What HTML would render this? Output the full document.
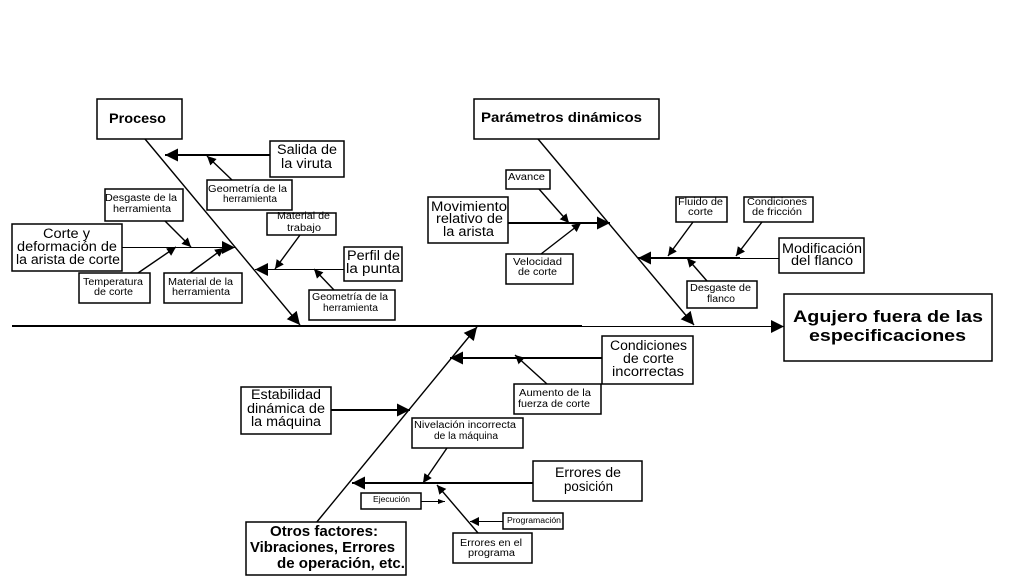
<!DOCTYPE html>
<html lang="es"><head><meta charset="utf-8"><title>Diagrama de Ishikawa</title>
<style>
html,body{margin:0;padding:0;background:#fff}
svg{display:block}
text{font-family:"Liberation Sans",Arial,sans-serif;fill:#000}
.b{font-weight:bold;font-size:14px}
.t{font-weight:bold;font-size:17px}
.o{font-weight:bold;font-size:15px}
.l{font-size:13.5px}
.s{font-size:10px}
.x{font-size:8px}
rect{fill:#fff;stroke:#000;stroke-width:1.5}
line{stroke:#000;stroke-width:1.4}
.h{stroke-width:1}
.k{stroke-width:2}
polygon{fill:#000}
</style></head><body>
<svg width="1012" height="576" viewBox="0 0 1012 576" xmlns="http://www.w3.org/2000/svg">
<defs>
<marker id="a" markerUnits="userSpaceOnUse" markerWidth="14" markerHeight="14" refX="13" refY="7" orient="auto"><polygon points="0,0.5 13,7 0,13.5"/></marker>
<marker id="m" markerUnits="userSpaceOnUse" markerWidth="10" markerHeight="10" refX="9" refY="4.5" orient="auto"><polygon points="0,0 9,4.5 0,9"/></marker>
<marker id="n" markerUnits="userSpaceOnUse" markerWidth="8" markerHeight="8" refX="7" refY="3" orient="auto"><polygon points="0,0.5 7,3 0,5.5"/></marker>
</defs>

<!-- main -->
<line class="k" x1="12" y1="326" x2="582" y2="326"/>
<line class="h" x1="582" y1="326.5" x2="784" y2="326.5" marker-end="url(#a)"/>

<!-- spines -->
<line x1="145" y1="139" x2="300" y2="325" marker-end="url(#a)"/>
<line x1="538" y1="139" x2="694" y2="325" marker-end="url(#a)"/>
<line x1="316" y1="523" x2="477" y2="327" marker-end="url(#a)"/>

<!-- Proceso branches -->
<line class="k" x1="270" y1="155" x2="165" y2="155" marker-end="url(#a)"/>
<line x1="232" y1="180" x2="207" y2="156" marker-end="url(#m)"/>
<line class="h" x1="122" y1="247.5" x2="235" y2="247.5" marker-end="url(#a)"/>
<line x1="165" y1="221" x2="191" y2="247" marker-end="url(#m)"/>
<line x1="138" y1="273" x2="176" y2="247" marker-end="url(#m)"/>
<line x1="190" y1="273" x2="224" y2="248" marker-end="url(#m)"/>
<line class="h" x1="344" y1="269.5" x2="255" y2="269.5" marker-end="url(#a)"/>
<line x1="300" y1="235" x2="275" y2="269" marker-end="url(#m)"/>
<line x1="334" y1="290" x2="314" y2="269" marker-end="url(#m)"/>

<!-- Parámetros branches -->
<line class="k" x1="508" y1="223" x2="610" y2="223" marker-end="url(#a)"/>
<line x1="539" y1="189" x2="569" y2="223" marker-end="url(#m)"/>
<line x1="541" y1="254" x2="581" y2="223" marker-end="url(#m)"/>
<line class="k" x1="740" y1="258" x2="638" y2="258" marker-end="url(#a)"/>
<line class="h" x1="779" y1="258.5" x2="738" y2="258.5"/>
<line x1="693" y1="222" x2="668" y2="256" marker-end="url(#m)"/>
<line x1="762" y1="222" x2="736" y2="256" marker-end="url(#m)"/>
<line x1="707" y1="281" x2="687" y2="258" marker-end="url(#m)"/>

<!-- Lower branches -->
<line class="k" x1="602" y1="358" x2="450" y2="358" marker-end="url(#a)"/>
<line x1="547" y1="384" x2="515" y2="355" marker-end="url(#m)"/>
<line class="k" x1="331" y1="410" x2="410" y2="410" marker-end="url(#a)"/>
<line class="k" x1="533" y1="483" x2="352" y2="483" marker-end="url(#a)"/>
<line x1="447" y1="448" x2="423" y2="483" marker-end="url(#m)"/>
<line class="h" x1="421" y1="501.5" x2="445" y2="501.5" marker-end="url(#n)"/>
<line x1="478" y1="533" x2="437" y2="485" marker-end="url(#m)"/>
<line class="h" x1="503" y1="521.5" x2="470" y2="521.5" marker-end="url(#m)"/>

<!-- boxes -->
<rect x="97" y="99" width="85" height="40"/>
<rect x="270" y="141" width="74" height="36"/>
<rect x="207" y="180" width="85" height="30"/>
<rect x="105" y="189" width="78" height="32"/>
<rect x="267" y="213" width="69" height="22"/>
<rect x="12" y="224" width="110" height="47"/>
<rect x="344" y="247" width="58" height="34"/>
<rect x="79" y="273" width="71" height="30"/>
<rect x="164" y="273" width="78" height="30"/>
<rect x="309" y="290" width="86" height="30"/>
<rect x="474" y="99" width="185" height="40"/>
<rect x="506" y="170" width="44" height="19"/>
<rect x="428" y="197" width="80" height="46"/>
<rect x="506" y="254" width="67" height="30"/>
<rect x="676" y="197" width="51" height="25"/>
<rect x="744" y="197" width="69" height="25"/>
<rect x="779" y="238" width="85" height="35"/>
<rect x="687" y="281" width="70" height="27"/>
<rect x="784" y="294" width="208" height="67"/>
<rect x="602" y="336" width="91" height="48"/>
<rect x="514" y="384" width="87" height="30"/>
<rect x="241" y="387" width="90" height="47"/>
<rect x="412" y="418" width="111" height="30"/>
<rect x="533" y="461" width="109" height="40"/>
<rect x="361" y="493" width="60" height="16"/>
<rect x="503" y="513" width="60" height="16"/>
<rect x="453" y="533" width="79" height="30"/>
<rect x="246" y="522" width="160" height="53"/>

<!-- labels -->
<text class="b" x="109" y="123" textLength="57" lengthAdjust="spacingAndGlyphs">Proceso</text>
<text class="l" x="277" y="154" textLength="60" lengthAdjust="spacingAndGlyphs">Salida de</text>
<text class="l" x="281" y="168" textLength="51" lengthAdjust="spacingAndGlyphs">la viruta</text>
<text class="s" x="208" y="192" textLength="79" lengthAdjust="spacingAndGlyphs">Geometría de la</text>
<text class="s" x="223" y="202" textLength="54" lengthAdjust="spacingAndGlyphs">herramienta</text>
<text class="s" x="105" y="201" textLength="72" lengthAdjust="spacingAndGlyphs">Desgaste de la</text>
<text class="s" x="113" y="212" textLength="58" lengthAdjust="spacingAndGlyphs">herramienta</text>
<text class="s" x="277" y="219" textLength="53" lengthAdjust="spacingAndGlyphs">Material de</text>
<text class="s" x="287" y="231" textLength="34" lengthAdjust="spacingAndGlyphs">trabajo</text>
<text class="l" x="43" y="238" textLength="47" lengthAdjust="spacingAndGlyphs">Corte y</text>
<text class="l" x="17" y="251" textLength="100" lengthAdjust="spacingAndGlyphs">deformación de</text>
<text class="l" x="16" y="264" textLength="104" lengthAdjust="spacingAndGlyphs">la arista de corte</text>
<text class="l" x="347" y="260" textLength="53" lengthAdjust="spacingAndGlyphs">Perfil de</text>
<text class="l" x="346" y="273" textLength="54" lengthAdjust="spacingAndGlyphs">la punta</text>
<text class="s" x="83" y="285" textLength="60" lengthAdjust="spacingAndGlyphs">Temperatura</text>
<text class="s" x="94" y="295" textLength="39" lengthAdjust="spacingAndGlyphs">de corte</text>
<text class="s" x="168" y="285" textLength="65" lengthAdjust="spacingAndGlyphs">Material de la</text>
<text class="s" x="172" y="295" textLength="58" lengthAdjust="spacingAndGlyphs">herramienta</text>
<text class="s" x="312" y="300" textLength="76" lengthAdjust="spacingAndGlyphs">Geometría de la</text>
<text class="s" x="323" y="311" textLength="55" lengthAdjust="spacingAndGlyphs">herramienta</text>

<text class="b" x="481" y="122" textLength="161" lengthAdjust="spacingAndGlyphs">Parámetros dinámicos</text>
<text class="s" x="508" y="180" textLength="37" lengthAdjust="spacingAndGlyphs">Avance</text>
<text class="l" x="431" y="211" textLength="76" lengthAdjust="spacingAndGlyphs">Movimiento</text>
<text class="l" x="436" y="223" textLength="67" lengthAdjust="spacingAndGlyphs">relativo de</text>
<text class="l" x="443" y="236" textLength="51" lengthAdjust="spacingAndGlyphs">la arista</text>
<text class="s" x="513" y="265" textLength="49" lengthAdjust="spacingAndGlyphs">Velocidad</text>
<text class="s" x="518" y="275" textLength="39" lengthAdjust="spacingAndGlyphs">de corte</text>
<text class="s" x="678" y="205" textLength="45" lengthAdjust="spacingAndGlyphs">Fluido de</text>
<text class="s" x="688" y="215" textLength="25" lengthAdjust="spacingAndGlyphs">corte</text>
<text class="s" x="747" y="205" textLength="60" lengthAdjust="spacingAndGlyphs">Condiciones</text>
<text class="s" x="752" y="215" textLength="50" lengthAdjust="spacingAndGlyphs">de fricción</text>
<text class="l" x="782" y="253" textLength="80" lengthAdjust="spacingAndGlyphs">Modificación</text>
<text class="l" x="791" y="265" textLength="62" lengthAdjust="spacingAndGlyphs">del flanco</text>
<text class="s" x="690" y="291" textLength="61" lengthAdjust="spacingAndGlyphs">Desgaste de</text>
<text class="s" x="707" y="302" textLength="28" lengthAdjust="spacingAndGlyphs">flanco</text>
<text class="t" x="793" y="322" textLength="190" lengthAdjust="spacingAndGlyphs">Agujero fuera de las</text>
<text class="t" x="809" y="341" textLength="157" lengthAdjust="spacingAndGlyphs">especificaciones</text>

<text class="l" x="610" y="350" textLength="77" lengthAdjust="spacingAndGlyphs">Condiciones</text>
<text class="l" x="623" y="363" textLength="51" lengthAdjust="spacingAndGlyphs">de corte</text>
<text class="l" x="612" y="376" textLength="72" lengthAdjust="spacingAndGlyphs">incorrectas</text>
<text class="s" x="519" y="396" textLength="72" lengthAdjust="spacingAndGlyphs">Aumento de la</text>
<text class="s" x="518" y="407" textLength="72" lengthAdjust="spacingAndGlyphs">fuerza de corte</text>
<text class="l" x="251" y="399" textLength="70" lengthAdjust="spacingAndGlyphs">Estabilidad</text>
<text class="l" x="247" y="413" textLength="78" lengthAdjust="spacingAndGlyphs">dinámica de</text>
<text class="l" x="251" y="426" textLength="70" lengthAdjust="spacingAndGlyphs">la máquina</text>
<text class="s" x="414" y="428" textLength="102" lengthAdjust="spacingAndGlyphs">Nivelación incorrecta</text>
<text class="s" x="434" y="439" textLength="64" lengthAdjust="spacingAndGlyphs">de la máquina</text>
<text class="l" x="555" y="477" textLength="66" lengthAdjust="spacingAndGlyphs">Errores de</text>
<text class="l" x="564" y="491" textLength="49" lengthAdjust="spacingAndGlyphs">posición</text>
<text class="x" x="373" y="502" textLength="37" lengthAdjust="spacingAndGlyphs">Ejecución</text>
<text class="x" x="507" y="523" textLength="54" lengthAdjust="spacingAndGlyphs">Programación</text>
<text class="s" x="460" y="546" textLength="62" lengthAdjust="spacingAndGlyphs">Errores en el</text>
<text class="s" x="468" y="556" textLength="47" lengthAdjust="spacingAndGlyphs">programa</text>
<text class="o" x="270" y="536" textLength="108" lengthAdjust="spacingAndGlyphs">Otros factores:</text>
<text class="o" x="250" y="552" textLength="145" lengthAdjust="spacingAndGlyphs">Vibraciones, Errores</text>
<text class="o" x="277" y="568" textLength="128" lengthAdjust="spacingAndGlyphs">de operación, etc.</text>
</svg>
</body></html>
